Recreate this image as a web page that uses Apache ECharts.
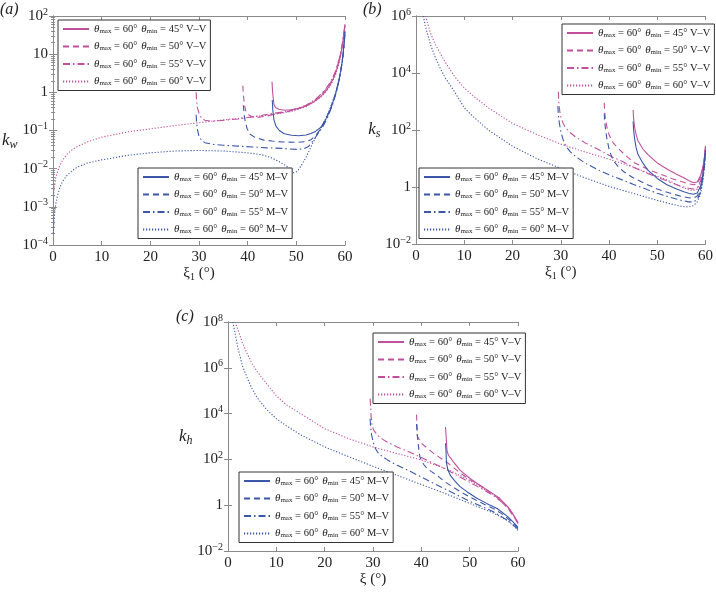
<!DOCTYPE html>
<html><head><meta charset="utf-8">
<script src="https://cdn.jsdelivr.net/npm/echarts@6/dist/echarts.min.js"></script>
<style>html,body{margin:0;padding:0;background:#fff}#c{width:716px;height:593px}</style>
</head><body><div id="c"></div>
<script>
// ---------- data: [xi (deg), k] ----------
// panel (a) k_w
const kwVV45 = [[45,1.9],[45.1,1.1],[45.25,0.7],[45.4,0.48],[45.7,0.4],[46.4,0.36],[47.5,0.34],[49,0.35],[50.5,0.38],[52,0.44],[53.5,0.55],[55,0.78],[56,1.05],[57,1.6],[58,3],[58.8,6.5],[59.4,15],[59.8,35],[60,60]];
const kwVV50 = [[39,1.5],[39.1,0.9],[39.3,0.5],[39.6,0.33],[40,0.27],[40.8,0.23],[42,0.22],[44,0.24],[46,0.28],[48,0.31],[50,0.36],[52,0.45],[54,0.65],[55,0.85],[56,1.15],[57,1.75],[58,3.2],[58.8,7],[59.4,16],[59.8,38],[60,60]];
const kwVV55 = [[29.4,1.0],[29.5,0.6],[29.7,0.38],[30,0.28],[30.5,0.21],[31.2,0.185],[32.5,0.175],[34,0.18],[36,0.19],[38,0.2],[40,0.22],[43,0.25],[46,0.29],[48,0.32],[50,0.37],[52,0.46],[54,0.66],[55,0.88],[56,1.2],[57,1.85],[58,3.4],[58.8,7.5],[59.4,17],[59.8,40],[60,60]];
const kwVV60 = [[0.05,0.0013],[0.2,0.003],[0.5,0.0055],[1,0.009],[1.5,0.013],[2,0.017],[3,0.025],[4,0.032],[5,0.038],[7,0.05],[10,0.067],[13,0.08],[16,0.095],[20,0.11],[25,0.135],[30,0.16],[35,0.19],[40,0.22],[44,0.25],[48,0.3],[50,0.34],[52,0.42],[54,0.6],[55,0.75],[56,1.0],[57,1.5],[58,2.7],[58.8,6],[59.4,14],[59.8,33],[60,55]];
const kwMV45 = [[45.05,0.63],[45.15,0.35],[45.4,0.19],[45.8,0.13],[46.5,0.1],[47.5,0.082],[49,0.075],[50.5,0.073],[52,0.076],[53,0.083],[54,0.096],[55,0.12],[56,0.19],[57,0.36],[58,0.85],[58.8,2.2],[59.4,6],[59.8,18],[60,40]];
const kwMV50 = [[39.1,0.46],[39.3,0.25],[39.5,0.17],[39.9,0.11],[40.5,0.08],[41.5,0.066],[43.3,0.056],[45,0.053],[47,0.05],[50,0.049],[52,0.051],[53,0.057],[54,0.075],[55,0.11],[56,0.19],[57,0.36],[58,0.85],[58.8,2.2],[59.4,6],[59.8,18],[60,40]];
const kwMV55 = [[29.4,0.26],[29.5,0.16],[29.7,0.1],[30,0.07],[30.5,0.056],[31.2,0.048],[33,0.043],[35,0.041],[38,0.039],[41,0.037],[44,0.035],[47,0.034],[50,0.032],[51.5,0.033],[52.5,0.038],[53.5,0.055],[54.5,0.085],[55.5,0.13],[56.5,0.23],[57.5,0.5],[58.3,1.1],[59,2.8],[59.5,7],[59.8,16],[60,38]];
const kwMV60 = [[0.05,0.0002],[0.2,0.0005],[0.5,0.0011],[1,0.0022],[1.5,0.0035],[2,0.0048],[3,0.007],[4,0.009],[5,0.011],[7,0.014],[10,0.017],[15,0.022],[20,0.026],[25,0.029],[30,0.03],[35,0.029],[40,0.026],[43,0.023],[45,0.019],[47,0.014],[48.5,0.0105],[49.5,0.0078],[50.2,0.0085],[51,0.012],[52,0.02],[53,0.037],[54,0.068],[55,0.11],[56,0.2],[57,0.4],[58,0.9],[58.8,2.2],[59.4,6],[59.8,17],[60,35]];
// panel (b) k_s
const ksVV45 = [[45,500],[45.1,250],[45.3,130],[45.6,70],[46,42],[47,22],[48,14],[50,7],[52,4.3],[54,2.8],[55.5,2.1],[56.5,1.7],[57.5,1.4],[58.3,1.5],[59,2.6],[59.5,5.5],[59.8,12],[60,28]];
const ksVV50 = [[39,900],[39.1,450],[39.3,220],[39.6,120],[40,70],[40.5,45],[41,33],[42,22],[43,15],[45,7.5],[48,4.2],[50,3.1],[53,2],[55,1.55],[56.5,1.3],[57.5,1.2],[58.3,1.3],[59,2.2],[59.5,5],[59.8,11],[60,25]];
const ksVV55 = [[29.5,2200],[29.6,900],[29.8,450],[30,300],[30.5,170],[31,120],[32,80],[33,58],[35,36],[38,20],[40,13],[43,7.5],[45,5],[48,3],[50,2.2],[53,1.4],[55,1.05],[56.5,0.9],[57.5,0.85],[58.3,0.95],[59,1.7],[59.5,4],[59.8,10],[60,22]];
const ksVV60 = [[2,1e6],[2.5,5e5],[3,2.5e5],[4,1e5],[5,5e4],[6,2.5e4],[8,7500],[10,3000],[12,1500],[15,600],[20,170],[25,70],[30,32],[35,17],[40,9.5],[45,5],[50,2.4],[53,1.5],[55,1.0],[56.5,0.8],[57.5,0.75],[58.3,0.85],[59,1.5],[59.5,3.5],[59.8,9],[60,20]];
const ksMV45 = [[45,200],[45.1,100],[45.3,50],[45.6,25],[46,14],[47,7],[48,4],[50,2],[52,1.2],[54,0.85],[55.5,0.68],[56.5,0.6],[57.5,0.56],[58.3,0.62],[59,1.1],[59.5,3],[59.8,8],[60,20]];
const ksMV50 = [[39,380],[39.1,200],[39.3,100],[39.6,45],[40,22],[40.5,12],[41,8],[42,5],[43,3.5],[45,2.1],[48,1.2],[50,0.85],[53,0.58],[55,0.47],[56.5,0.42],[57.5,0.41],[58.3,0.48],[59,0.9],[59.5,2.6],[59.8,7],[60,18]];
const ksMV55 = [[29.4,700],[29.5,350],[29.7,180],[30,90],[30.5,45],[31,28],[32,17],[33,12],[35,7],[38,3.8],[40,2.7],[43,1.7],[45,1.25],[48,0.8],[50,0.6],[53,0.42],[55,0.34],[56.5,0.3],[57.5,0.3],[58.3,0.36],[59,0.7],[59.5,2.2],[59.8,6],[60,16]];
const ksMV60 = [[1.5,1e6],[2,4e5],[3,1e5],[4,3.5e4],[5,1.5e4],[6,7000],[8,2200],[10,600],[12,280],[15,100],[20,27],[25,10],[30,4.5],[35,2.1],[40,1.05],[45,0.6],[50,0.34],[53,0.25],[55,0.21],[56.5,0.2],[57.5,0.22],[58.3,0.3],[59,0.6],[59.5,1.8],[59.8,5],[60,15]];
// panel (c) k_h
const khVV45 = [[45,2600],[45.1,1200],[45.2,600],[45.3,250],[45.6,155],[46.6,80],[48,34],[50,15],[52,7.6],[54.2,3.9],[56.2,2],[57.9,0.85],[59,0.4],[60,0.17]];
const khVV50 = [[39,9000],[39.1,4000],[39.2,1000],[40.1,490],[42.6,180],[45.3,75],[48,26],[50,13],[51.5,9],[55.7,2.2],[58,0.7],[60,0.17]];
const khVV55 = [[29.4,4.5e4],[29.5,2e4],[29.6,8000],[29.8,3000],[30.2,1800],[31,1100],[32,750],[33,560],[35,350],[38,190],[40,120],[43,60],[45,38],[48,17],[50,10],[53,4.5],[55,2.6],[57,1.2],[58.5,0.55],[60,0.16]];
const khVV60 = [[1.5,1e8],[2,5e7],[3,1.2e7],[4,4e6],[5,1.5e6],[6,7e5],[8,2e5],[10,6e4],[12,2.5e4],[15,1e4],[20,2200],[25,800],[30,350],[35,180],[40,95],[45,40],[48,20],[50,12],[53,5],[55,2.8],[57,1.3],[58.5,0.6],[60,0.16]];
const khMV45 = [[45,500],[45.1,250],[45.2,70],[45.5,35],[46,20],[47,11],[48,6.5],[49.5,3.8],[51.5,2],[53.5,1.2],[55.7,0.72],[58,0.3],[60,0.11]];
const khMV50 = [[39,3500],[39.1,1500],[39.3,600],[39.5,250],[39.7,130],[40,90],[40.5,60],[41,45],[42,30],[43,22],[45,10],[48,4],[50,2.3],[53,1.1],[55,0.7],[57,0.38],[58.5,0.2],[60,0.1]];
const khMV55 = [[29.4,6000],[29.5,3000],[29.7,1200],[30,600],[30.5,300],[31,200],[32,130],[33,95],[35,55],[38,28],[40,17],[43,8],[45,5],[48,2.4],[50,1.5],[53,0.8],[55,0.5],[57,0.28],[58.5,0.17],[60,0.09]];
const khMV60 = [[1,1e8],[1.5,3e7],[2,8e6],[3,1.2e6],[4,3.5e5],[5,1.2e5],[6,5e4],[8,1.5e4],[10,6000],[12,3000],[15,1200],[20,350],[25,130],[30,50],[35,20],[40,8],[45,3.2],[50,1.2],[55,0.45],[58,0.2],[60,0.08]];

const seriesNames = ['VV45','VV50','VV55','VV60','MV45','MV50','MV55','MV60'];
const panelData = [
  [kwVV45,kwVV50,kwVV55,kwVV60,kwMV45,kwMV50,kwMV55,kwMV60],
  [ksVV45,ksVV50,ksVV55,ksVV60,ksMV45,ksMV50,ksMV55,ksMV60],
  [khVV45,khVV50,khVV55,khVV60,khMV45,khMV50,khMV55,khMV60]
];
const panelLetters = ['(a)','(b)','(c)'];
const yNames = ['w','s','h'];
const xNames = ['{g|ξ}{d|1}{g| (°)}','{g|ξ}{d|1}{g| (°)}','{g|ξ}{g| (°)}'];

// ---------- styling ----------
const MAG = '#c0509c', BLU = '#3b57a8';
const SERIF = "Liberation Serif, serif";
const dash = {'45':'solid','50':[6,4],'55':[7,3,1.5,3],'60':[1.2,1.8]};
const grids = [
  {left:52,top:16,width:293,height:229},
  {left:416,top:16,width:293,height:228},
  {left:228,top:322,width:290,height:229}
];
const yRange = [
  {min:1e-4,max:100,logBase:10},
  {min:1e-2,max:1e6,logBase:100},
  {min:1e-2,max:1e8,logBase:100}
];
const AX = '#8a8a8a';

function powLabel(v){
  const e = Math.round(Math.log10(v));
  if (e===0) return '{b|1}';
  if (e===1) return '{b|10}';
  return '{b|10}{s|'+(e<0?'−':'')+Math.abs(e)+'}';
}
const tickRich = {
  b:{fontFamily:SERIF,fontSize:15,color:'#222'},
  s:{fontFamily:SERIF,fontSize:10,color:'#222',padding:[0,0,8,0]}
};

const xAxis=[], yAxis=[], series=[];
grids.forEach((g,i)=>{
  xAxis.push({type:'value',gridIndex:i,min:0,max:60,interval:10,position:'bottom',
    axisLine:{lineStyle:{color:AX}},axisTick:{inside:true,length:4,lineStyle:{color:AX}},
    splitLine:{show:false},
    axisLabel:{fontFamily:SERIF,fontSize:15,color:'#222',margin:5},
    name:xNames[i],nameLocation:'middle',nameGap:20,
    nameTextStyle:{rich:{g:{fontFamily:SERIF,fontSize:15,color:'#222'},d:{fontFamily:SERIF,fontSize:10,color:'#222',padding:[7,0,0,0]}}}
  });
  xAxis.push({type:'value',gridIndex:i,min:0,max:60,interval:10,position:'top',
    axisLine:{lineStyle:{color:AX}},axisTick:{inside:true,length:4,lineStyle:{color:AX}},
    splitLine:{show:false},axisLabel:{show:false}});
  const yr=yRange[i];
  yAxis.push({type:'log',gridIndex:i,min:yr.min,max:yr.max,logBase:yr.logBase,position:'left',
    axisLine:{show:true,lineStyle:{color:AX}},axisTick:{show:true,inside:true,length:4,lineStyle:{color:AX}},
    minorTick:{show:i===0,splitNumber:9,length:2,lineStyle:{color:AX}},
    splitLine:{show:false},
    axisLabel:{formatter:powLabel,rich:tickRich,margin:5},
    name:'{i|k}{j|'+yNames[i]+'}',nameLocation:'middle',nameRotate:0,nameGap:i===0?24:28,
    nameTextStyle:{rich:{i:{fontFamily:SERIF,fontStyle:'italic',fontSize:17,color:'#222'},j:{fontFamily:SERIF,fontStyle:'italic',fontSize:12,color:'#222',padding:[8,0,0,0]}},padding:i===0?[20,0,0,0]:[0,0,0,0]}
  });
  yAxis.push({type:'log',gridIndex:i,min:yr.min,max:yr.max,logBase:yr.logBase,position:'right',
    axisLine:{show:true,lineStyle:{color:AX}},axisTick:{show:true,inside:true,length:4,lineStyle:{color:AX}},
    minorTick:{show:i===0,splitNumber:9,length:2,lineStyle:{color:AX}},
    splitLine:{show:false},axisLabel:{show:false}});
  panelData[i].forEach((d,k)=>{
    const nm=seriesNames[k];
    series.push({type:'line',name:nm,xAxisIndex:2*i,yAxisIndex:2*i,data:d,symbol:'none',
      smooth:false,animation:false,silent:true,
      lineStyle:{width:1.1,color:nm.startsWith('VV')?MAG:BLU,type:dash[nm.slice(2)]},
      itemStyle:{color:nm.startsWith('VV')?MAG:BLU}});
  });
});

function legLabel(n){
  const t = n.startsWith('VV')?'V–V':'M–V';
  return '{t|θ}{s|max}{n| = 60° }{g| }{t|θ}{s|min}{n| = '+n.slice(2)+'° '+t+'}';
}
const legRich = {
  t:{fontFamily:SERIF,fontStyle:'italic',fontSize:11,color:'#222'},
  s:{fontFamily:SERIF,fontSize:7,color:'#222',padding:[4,0,0,0]},
  n:{fontFamily:SERIF,fontSize:10.5,color:'#222'},
  g:{fontFamily:SERIF,fontSize:5,color:'#222'}
};
const VVn = seriesNames.slice(0,4), MVn = seriesNames.slice(4);
const legPos = [
  {left:58,top:20,data:VVn},{left:138,top:168,data:MVn},
  {left:562,top:24,data:VVn},{left:419,top:168,data:MVn},
  {left:373,top:333,data:VVn},{left:239,top:472,data:MVn}
];
const legend = legPos.map(p=>({
  left:p.left,top:p.top,orient:'vertical',data:p.data,selectedMode:false,
  backgroundColor:'#fff',borderColor:'#333',borderWidth:1,padding:[3,4,3,4],
  itemWidth:26,itemHeight:12,itemGap:5.5,formatter:legLabel,
  itemStyle:{opacity:0},
  textStyle:{rich:legRich,lineHeight:12}
}));

const chart = echarts.init(document.getElementById('c'),null,{renderer:'canvas'});
chart.setOption({
  animation:false,backgroundColor:'#fff',
  grid:grids,xAxis,yAxis,series,legend,
  graphic:[
    {type:'text',left:0,top:2,style:{text:panelLetters[0],font:"italic 16px 'Liberation Serif'",fill:'#222'}},
    {type:'text',left:363,top:2,style:{text:panelLetters[1],font:"italic 16px 'Liberation Serif'",fill:'#222'}},
    {type:'text',left:176,top:309,style:{text:panelLetters[2],font:"italic 16px 'Liberation Serif'",fill:'#222'}}
  ]
});
</script></body></html>
